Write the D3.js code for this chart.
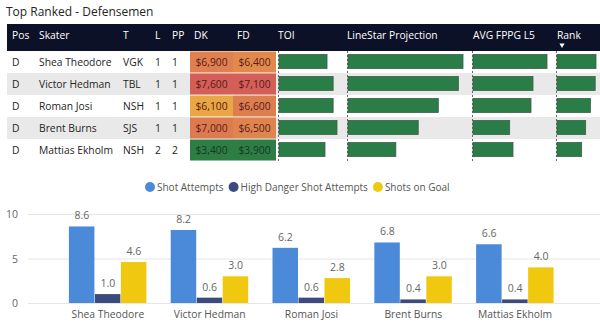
<!DOCTYPE html>
<html>
<head>
<meta charset="utf-8">
<script src="https://cdn.jsdelivr.net/npm/d3@7"></script>
<style>
  body { margin: 0; background: #fff; }
  svg { display: block; font-family: "Open Sans", "Noto Sans", sans-serif; }
</style>
</head>
<body>
<div id="chart"></div>
<script>
// table rows
const positions = ["D", "D", "D", "D", "D"];
const skaters = ["Shea Theodore", "Victor Hedman", "Roman Josi", "Brent Burns", "Mattias Ekholm"];
const teams = ["VGK", "TBL", "NSH", "SJS", "NSH"];
const lines = [1, 1, 1, 1, 2];
const ppUnits = [1, 1, 1, 1, 2];
const dkSalary = [6900, 7600, 6100, 7000, 3400];
const fdSalary = [6400, 7100, 6600, 6500, 3900];
const toi = [21.2, 23.9, 23.9, 25.6, 20.3];
const projection = [14.9, 14.3, 11.7, 9.1, 6.2];
const fppgL5 = [11.1, 9.0, 8.7, 5.5, 6.0];
const rankScore = [98, 96, 84, 72, 62];

// shot chart
const seriesNames = ["Shot Attempts", "High Danger Shot Attempts", "Shots on Goal"];
const shotAttempts = [8.6, 8.2, 6.2, 6.8, 6.6];
const highDanger = [1.0, 0.6, 0.6, 0.4, 0.4];
const shotsOnGoal = [4.6, 3.0, 2.8, 3.0, 4.0];
const yTicks = [0, 5, 10];

const width = 600, height = 334;
const fs = 10.3;
const svg = d3.select("#chart").append("svg")
    .attr("width", width)
    .attr("height", height);

// title
svg.append("text")
    .attr("x", 6).attr("y", 16)
    .attr("font-size", 12)
    .attr("fill", "#252423")
    .text("Top Ranked - Defensemen");

// ---------- table ----------
const tableLeft = 7, headerTop = 24, headerH = 27, rowH = 22;
svg.append("rect")
    .attr("x", tableLeft).attr("y", headerTop)
    .attr("width", width - tableLeft).attr("height", headerH)
    .attr("fill", "#0d1127");

const headers = [
    { t: "Pos", x: 12 }, { t: "Skater", x: 39 }, { t: "T", x: 123 },
    { t: "L", x: 155 }, { t: "PP", x: 172 }, { t: "DK", x: 194 },
    { t: "FD", x: 237 }, { t: "TOI", x: 278 }, { t: "LineStar Projection", x: 347 },
    { t: "AVG FPPG L5", x: 473 }, { t: "Rank", x: 557 }
];
svg.append("g").selectAll("text")
    .data(headers)
    .join("text")
    .attr("x", d => d.x).attr("y", 39)
    .attr("font-size", fs)
    .attr("fill", "#fff")
    .text(d => d.t);

// sort indicator under Rank
svg.append("path")
    .attr("d", d3.symbol(d3.symbolTriangle, 12)())
    .attr("transform", "translate(562,45) rotate(180)")
    .attr("fill", "#fff");

const rows = d3.range(skaters.length);
const rowY = i => headerTop + headerH + i * rowH;

svg.append("g").selectAll("rect")
    .data(rows.filter(i => i % 2 === 1))
    .join("rect")
    .attr("x", tableLeft).attr("y", i => rowY(i))
    .attr("width", width - tableLeft).attr("height", rowH)
    .attr("fill", "#e9e9e9");

// salary colours per column: lowest green, middle yellow, highest red
const salaryColor = vals => {
    const [lo, hi] = d3.extent(vals);
    return d3.scaleLinear()
        .domain([lo, (lo + hi) / 2, hi])
        .range(["#2e7d45", "#f2c23c", "#d45f58"]);
};
const salaryFmt = d => "$" + d3.format(",")(d);

const cellCols = [
    { vals: dkSalary, x: 190, w: 43 },
    { vals: fdSalary, x: 233, w: 43 }
];
cellCols.forEach(col => {
    const c = salaryColor(col.vals);
    const g = svg.append("g");
    g.selectAll("rect")
        .data(rows)
        .join("rect")
        .attr("x", col.x).attr("y", i => rowY(i) + 0.5)
        .attr("width", col.w).attr("height", rowH - 1)
        .attr("fill", i => c(col.vals[i]));
    g.selectAll("text")
        .data(rows)
        .join("text")
        .attr("x", col.x + col.w / 2).attr("y", i => rowY(i) + 15)
        .attr("text-anchor", "middle")
        .attr("font-size", fs)
        .attr("fill", i => col.vals[i] < 5000 ? "#123a1e" : "#5a1a1a")
        .text(i => salaryFmt(col.vals[i]));
});

const textCols = [
    { vals: positions, x: 12, anchor: "start" },
    { vals: skaters, x: 39, anchor: "start" },
    { vals: teams, x: 123, anchor: "start" },
    { vals: lines, x: 158, anchor: "middle" },
    { vals: ppUnits, x: 175, anchor: "middle" }
];
textCols.forEach(col => {
    svg.append("g").selectAll("text")
        .data(rows)
        .join("text")
        .attr("x", col.x).attr("y", i => rowY(i) + 15)
        .attr("text-anchor", col.anchor)
        .attr("font-size", fs)
        .attr("fill", "#252423")
        .text(i => col.vals[i]);
});

// data bar columns
const barCols = [
    { vals: toi, x: 279, maxW: 58 },
    { vals: projection, x: 348, maxW: 115 },
    { vals: fppgL5, x: 473, maxW: 74 },
    { vals: rankScore, x: 557, maxW: 39 }
];
barCols.forEach(col => {
    const w = d3.scaleLinear().domain([0, d3.max(col.vals)]).range([0, col.maxW]);
    const g = svg.append("g");
    g.append("line")
        .attr("x1", col.x - 0.5).attr("x2", col.x - 0.5)
        .attr("y1", headerTop + headerH).attr("y2", rowY(rows.length))
        .attr("stroke", "#666").attr("stroke-dasharray", "2,2");
    g.selectAll("rect")
        .data(rows)
        .join("rect")
        .attr("x", col.x).attr("y", i => rowY(i) + 3.5)
        .attr("width", i => w(col.vals[i])).attr("height", 14)
        .attr("fill", "#2a7d47")
        .attr("stroke", "#3f5e48").attr("stroke-width", 0.8);
});

// ---------- grouped bar chart ----------
const x0 = d3.scaleBand()
    .domain(skaters)
    .range([57, 566])
    .paddingInner(0.234)
    .paddingOuter(0.117);
const x1 = d3.scaleBand()
    .domain(seriesNames)
    .range([0, x0.bandwidth()]);
const y = d3.scaleLinear().domain([0, 10]).range([303, 214]);
const color = d3.scaleOrdinal()
    .domain(seriesNames)
    .range(["#4a8ad9", "#3d4a7d", "#f0c80f"]);

// gridlines and y labels
svg.append("g").selectAll("line")
    .data(yTicks)
    .join("line")
    .attr("x1", 28).attr("x2", width)
    .attr("y1", d => y(d) + 0.5).attr("y2", d => y(d) + 0.5)
    .attr("stroke", "#e6e6e6");
svg.append("g").selectAll("text")
    .data(yTicks)
    .join("text")
    .attr("x", 18).attr("y", d => y(d) + 4)
    .attr("text-anchor", "end")
    .attr("font-size", 10.5)
    .attr("fill", "#666")
    .text(d => d);

const seriesVals = [shotAttempts, highDanger, shotsOnGoal];
const barData = [];
skaters.forEach((s, i) => {
    seriesNames.forEach((k, j) => barData.push({ s, k, v: seriesVals[j][i] }));
});

svg.append("g").selectAll("rect")
    .data(barData)
    .join("rect")
    .attr("x", d => x0(d.s) + x1(d.k))
    .attr("y", d => y(d.v))
    .attr("width", x1.bandwidth() - 0.5)
    .attr("height", d => y(0) - y(d.v))
    .attr("fill", d => color(d.k));

svg.append("g").selectAll("text")
    .data(barData)
    .join("text")
    .attr("x", d => x0(d.s) + x1(d.k) + x1.bandwidth() / 2)
    .attr("y", d => y(d.v) - 7)
    .attr("text-anchor", "middle")
    .attr("font-size", 10.5)
    .attr("fill", "#666")
    .text(d => d3.format(".1f")(d.v));

// category labels
svg.append("g").selectAll("text")
    .data(skaters)
    .join("text")
    .attr("x", d => x0(d) + x0.bandwidth() / 2)
    .attr("y", 318)
    .attr("text-anchor", "middle")
    .attr("font-size", fs)
    .attr("fill", "#555")
    .text(d => d);

// legend
const legend = svg.append("g");
let lx = 145;
seriesNames.forEach(k => {
    legend.append("circle")
        .attr("cx", lx + 5).attr("cy", 187).attr("r", 5)
        .attr("fill", color(k));
    const t = legend.append("text")
        .attr("x", lx + 12).attr("y", 191)
        .attr("font-size", 10)
        .attr("fill", "#555")
        .text(k);
    lx += 12 + t.node().getComputedTextLength() + 5;
});
</script>
</body>
</html>
